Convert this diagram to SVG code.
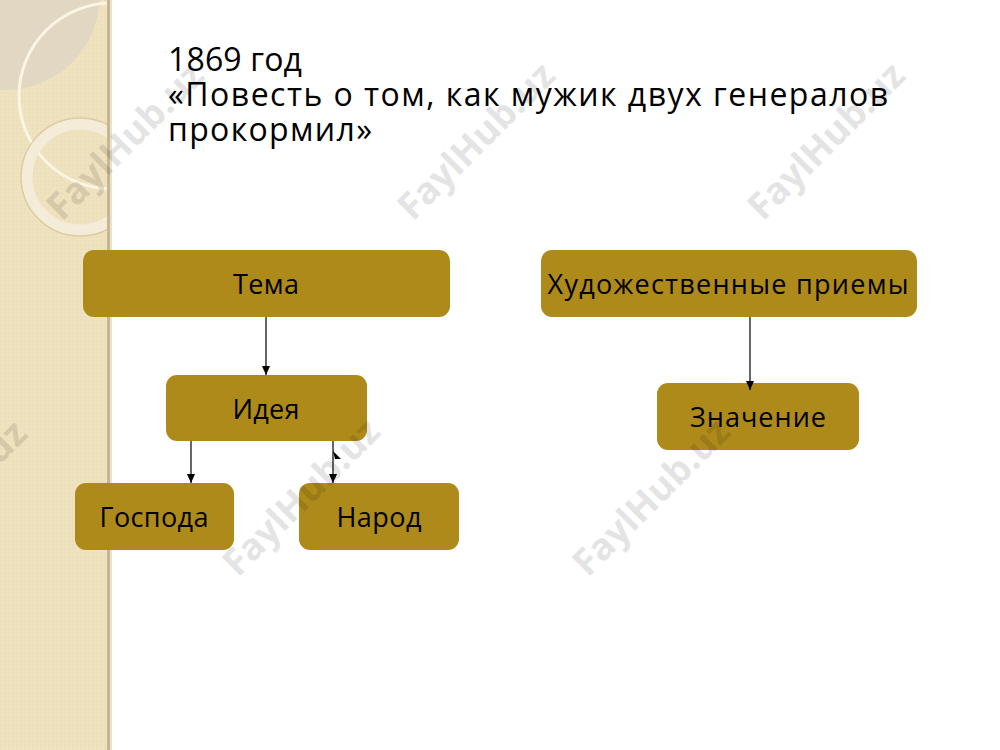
<svg xmlns="http://www.w3.org/2000/svg" width="1000" height="750" viewBox="0 0 1000 750">
<defs>
<style>
.node rect{fill:#AD8A19;}
.node text{font-family:"Open Sans","Noto Sans",sans-serif;font-size:27px;fill:#000;text-anchor:middle;}
.title{font-family:"Open Sans","Noto Sans",sans-serif;font-size:32px;fill:#000;}
.conn line{stroke:#000;stroke-width:1.2;}
.wm{font-family:"Open Sans","DejaVu Sans",sans-serif;font-size:37px;font-weight:bold;fill:#000;opacity:0.1;}
</style>
<marker id="ah" markerWidth="10" markerHeight="10" refX="9" refY="4.5" orient="auto" markerUnits="userSpaceOnUse">
<path d="M0,0.5 L9,4.5 L0,8.5 Z" fill="#000"/>
</marker>
<pattern id="dots" width="4" height="4" patternUnits="userSpaceOnUse">
<rect width="4" height="4" fill="#EFE2BF"/>
<circle cx="1" cy="1" r="0.6" fill="#E6D6AE"/>
</pattern>
<clipPath id="strip"><rect x="0" y="0" width="109" height="750"/></clipPath>
</defs>
<rect width="1000" height="750" fill="#FFFFFF"/>
<g id="side-panel">
<rect x="0" y="0" width="109" height="750" fill="url(#dots)"/>
<g clip-path="url(#strip)">
<circle cx="5" cy="-5" r="95" fill="#E2D7C2"/>
<circle cx="112" cy="96" r="93" fill="none" stroke="#FBF5E6" stroke-width="3"/>
<circle cx="80" cy="177" r="53" fill="none" stroke="#F4ECD8" stroke-width="11"/>
<circle cx="80" cy="177" r="59" fill="none" stroke="#D6C391" stroke-width="1.5" opacity="0.7"/>
</g>
<rect x="107" y="0" width="3" height="750" fill="#C9B690"/>
<rect x="110" y="0" width="2" height="750" fill="#E8E2D4"/>
</g>
<g id="title">
<text class="title" x="168" y="71" textLength="134" lengthAdjust="spacing">1869 год</text>
<text class="title" x="168" y="106" textLength="720" lengthAdjust="spacing">«Повесть о том, как мужик двух генералов</text>
<text class="title" x="168" y="141" textLength="204" lengthAdjust="spacing">прокормил»</text>
</g>
<g class="node" id="node-tema"><rect x="83" y="250" width="367" height="67" rx="11"/><text x="266" y="294" textLength="66" lengthAdjust="spacing">Тема</text></g>
<g class="node" id="node-priemy"><rect x="541" y="250" width="376" height="67" rx="11"/><text x="728" y="294" textLength="361" lengthAdjust="spacing">Художественные приемы</text></g>
<g class="node" id="node-ideya"><rect x="166" y="375" width="201" height="66" rx="11"/><text x="266" y="419" textLength="67" lengthAdjust="spacing">Идея</text></g>
<g class="node" id="node-znachenie"><rect x="657" y="383" width="202" height="67" rx="11"/><text x="758" y="427" textLength="136" lengthAdjust="spacing">Значение</text></g>
<g class="node" id="node-gospoda"><rect x="75" y="483" width="159" height="67" rx="11"/><text x="154" y="527" textLength="109" lengthAdjust="spacing">Господа</text></g>
<g class="node" id="node-narod"><rect x="299" y="483" width="160" height="67" rx="11"/><text x="379" y="527" textLength="85" lengthAdjust="spacing">Народ</text></g>
<g class="conn" id="connectors">
<line x1="266" y1="317" x2="266" y2="375" marker-end="url(#ah)"/>
<line x1="750" y1="317" x2="750" y2="390" marker-end="url(#ah)"/>
<line x1="191" y1="441" x2="191" y2="483" marker-end="url(#ah)"/>
<line x1="333" y1="441" x2="333" y2="483" marker-end="url(#ah)"/>
<path d="M333,451 L341,459 L335,459 Z" fill="#000"/>
</g>
<g id="watermarks">
<text class="wm" transform="translate(62,222) rotate(-45)">FaylHub.uz</text>
<text class="wm" transform="translate(413,222) rotate(-45)">FaylHub.uz</text>
<text class="wm" transform="translate(763,222) rotate(-45)">FaylHub.uz</text>
<text class="wm" transform="translate(-115,580) rotate(-45)">FaylHub.uz</text>
<text class="wm" transform="translate(238,578) rotate(-45)">FaylHub.uz</text>
<text class="wm" transform="translate(588,578) rotate(-45)">FaylHub.uz</text>
</g>
</svg>
